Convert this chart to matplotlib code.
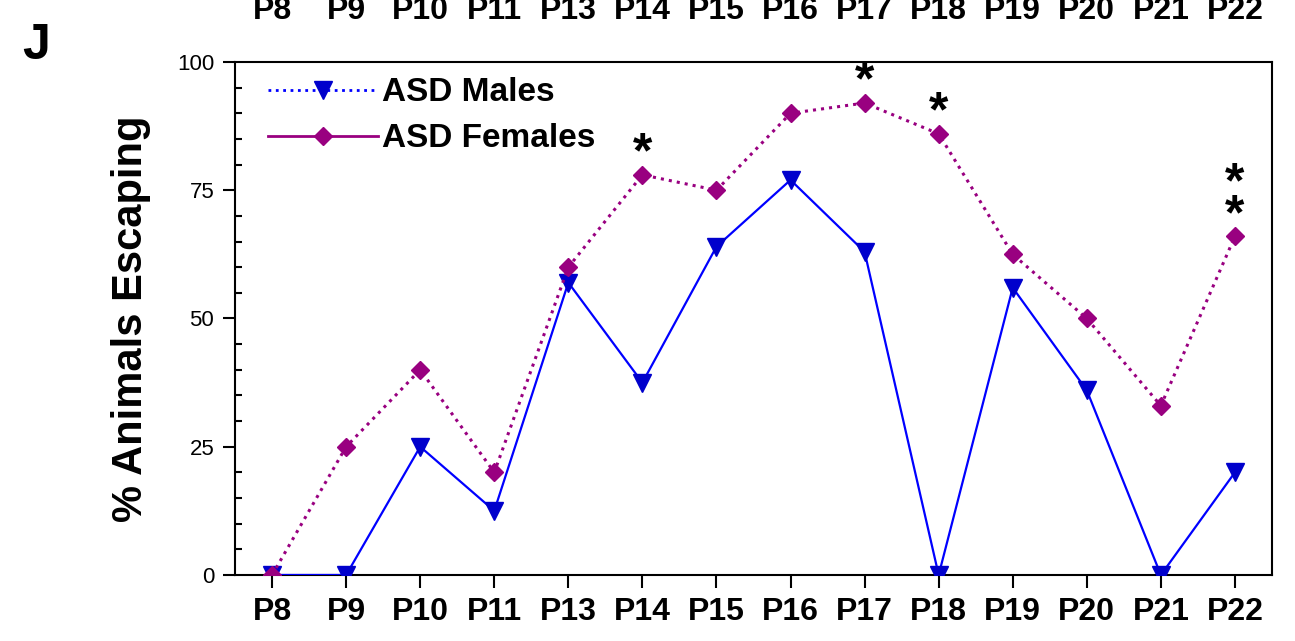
import matplotlib.pyplot as plt
from matplotlib.lines import Line2D
from matplotlib.ticker import MultipleLocator
import matplotlib.transforms as mtransforms

days = ['P8', 'P9', 'P10', 'P11', 'P13', 'P14', 'P15', 'P16', 'P17',
        'P18', 'P19', 'P20', 'P21', 'P22']
males = [0, 0, 25, 12.5, 57, 37.5, 64, 77, 63, 0, 56, 36, 0, 20]
females = [0, 25, 40, 20, 60, 78, 75, 90, 92, 86, 62.5, 50, 33, 66]

# significance marks above the female curve: (index, label)
stars = [(5, '*'), (8, '*'), (9, '*'), (13, '*\n*')]

BLUE = '#0000ff'
PURPLE = '#990080'
FONT = 'Liberation Sans'


def main():
    fig = plt.figure(figsize=(12.95, 6.41), dpi=100)
    ax = fig.add_axes([0.1815, 0.103, 0.8007, 0.8003])
    x = list(range(len(days)))

    ax.plot(x, males, '-', color=BLUE, lw=1.6, marker='v', ms=13,
            mfc='#0000cc', mec='#0000cc', zorder=3)
    ax.plot(x, females, ':', color=PURPLE, lw=2.2, marker='D', ms=9,
            mfc=PURPLE, mec=PURPLE, zorder=3)

    for i, s in stars:
        ax.annotate(s, (i, females[i]), xytext=(0, -2), textcoords='offset points',
                    ha='center', va='bottom', fontsize=36, fontweight='bold',
                    family=FONT, linespacing=0.62)

    ax.set_xlim(-0.5, len(days) - 0.5)
    ax.set_ylim(0, 100)
    ax.set_xticks(x)
    ax.set_xticklabels(days, fontsize=23, fontweight='bold', family=FONT)
    ax.set_yticks([0, 25, 50, 75, 100])
    ax.yaxis.set_minor_locator(MultipleLocator(5))
    ax.tick_params(axis='y', which='major', direction='out', length=9, width=1.5,
                   labelsize=16, pad=6)
    ax.tick_params(axis='y', which='minor', direction='in', length=5, width=1.5)
    ax.tick_params(axis='x', direction='out', length=9, width=1.5, pad=7)
    for lab in ax.get_yticklabels():
        lab.set_family(FONT)
    for sp in ax.spines.values():
        sp.set_linewidth(1.5)

    ax.set_ylabel('% Animals Escaping', fontsize=30, fontweight='bold',
                  family=FONT, labelpad=19)

    handles = [
        Line2D([], [], ls=':', color=BLUE, lw=2, marker='v', ms=13,
               mfc='#0000cc', mec='#0000cc'),
        Line2D([], [], ls='-', color=PURPLE, lw=2, marker='D', ms=9,
               mfc=PURPLE, mec=PURPLE),
    ]
    ax.legend(handles, ['ASD Males', 'ASD Females'], loc='upper left',
              frameon=False, handlelength=3.3, handletextpad=0.1,
              borderaxespad=0.6, labelspacing=0.45,
              bbox_to_anchor=(0.0, 1.035),
              prop={'family': FONT, 'weight': 'bold', 'size': 24})

    # tick labels of the panel above, cut off at the top edge
    trans = mtransforms.blended_transform_factory(ax.transData, fig.transFigure)
    for i, d in enumerate(days):
        ax.text(i, 0.96, d, transform=trans, ha='center', va='bottom',
                fontsize=23, fontweight='bold', family=FONT, clip_on=False)

    fig.text(0.017, 0.928, 'J', fontsize=36, fontweight='bold',
             family=FONT, va='center')

    fig.savefig('out.png', dpi=100)


if __name__ == '__main__':
    main()
